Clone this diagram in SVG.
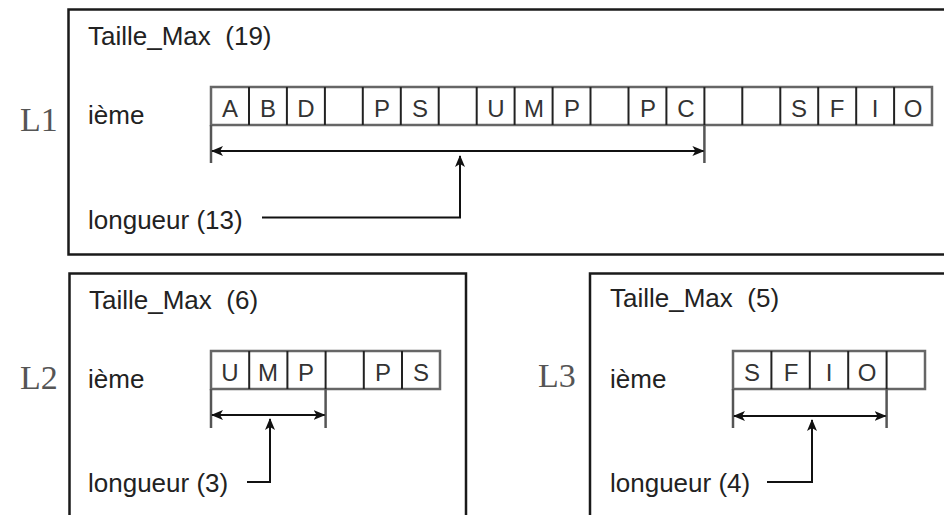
<svg xmlns="http://www.w3.org/2000/svg" width="944" height="515" viewBox="0 0 944 515">
<style>
.lbl{font-family:"Liberation Sans",Arial,sans-serif;font-size:26px;fill:#222}
.cell{font-family:"Liberation Sans",Arial,sans-serif;font-size:24px;fill:#333;text-anchor:middle}
.big{font-family:"Liberation Serif","Times New Roman",serif;font-size:34px;fill:#555}
.box{fill:none;stroke:#1a1a1a;stroke-width:2.5}
.arr{fill:none;stroke:#666;stroke-width:2.5}
.div{stroke:#222;stroke-width:2}
.ext{stroke:#555;stroke-width:2.5}
.con{fill:none;stroke:#111;stroke-width:2}
</style>
<defs>
<marker id="ah" markerUnits="userSpaceOnUse" markerWidth="12" markerHeight="10" refX="11" refY="5" orient="auto-start-reverse">
<path d="M0,0 L12,5 L0,10 L3,5 z" fill="#111"/>
</marker>
</defs>
<rect width="944" height="515" fill="#fff"/>

<g id="L1">
<path class="box" d="M950,9.5 H68.5 V254.5 H950"/>
<text class="big" x="20" y="131">L1</text>
<text class="lbl" x="88" y="45">Taille_Max &#160;(19)</text>
<text class="lbl" x="88" y="124">ième</text>
<text class="lbl" x="88" y="229">longueur (13)</text>
<rect class="arr" x="211" y="87" width="721" height="38"/>
<g class="div">
<line x1="249" y1="87" x2="249" y2="125"/><line x1="286.9" y1="87" x2="286.9" y2="125"/><line x1="324.9" y1="87" x2="324.9" y2="125"/><line x1="362.8" y1="87" x2="362.8" y2="125"/><line x1="400.8" y1="87" x2="400.8" y2="125"/><line x1="438.7" y1="87" x2="438.7" y2="125"/><line x1="476.7" y1="87" x2="476.7" y2="125"/><line x1="514.6" y1="87" x2="514.6" y2="125"/><line x1="552.6" y1="87" x2="552.6" y2="125"/><line x1="590.5" y1="87" x2="590.5" y2="125"/><line x1="628.5" y1="87" x2="628.5" y2="125"/><line x1="666.4" y1="87" x2="666.4" y2="125"/><line x1="704.4" y1="87" x2="704.4" y2="125"/><line x1="742.3" y1="87" x2="742.3" y2="125"/><line x1="780.3" y1="87" x2="780.3" y2="125"/><line x1="818.2" y1="87" x2="818.2" y2="125"/><line x1="856.2" y1="87" x2="856.2" y2="125"/><line x1="894.1" y1="87" x2="894.1" y2="125"/>
</g>
<text class="cell" x="230" y="117">A</text><text class="cell" x="268" y="117">B</text><text class="cell" x="306" y="117">D</text>
<text class="cell" x="382" y="117">P</text><text class="cell" x="420" y="117">S</text>
<text class="cell" x="496" y="117">U</text><text class="cell" x="534" y="117">M</text><text class="cell" x="572" y="117">P</text>
<text class="cell" x="648" y="117">P</text><text class="cell" x="686" y="117">C</text>
<text class="cell" x="799" y="117">S</text><text class="cell" x="837" y="117">F</text><text class="cell" x="875" y="117">I</text><text class="cell" x="913" y="117">O</text>
<line class="ext" x1="211" y1="125" x2="211" y2="163"/><line class="ext" x1="704.4" y1="125" x2="704.4" y2="163"/>
</g>

<g id="L2">
<path class="box" d="M69.5,520 V273.5 H466 V520"/>
<text class="big" x="20" y="389">L2</text>
<text class="lbl" x="89" y="309">Taille_Max &#160;(6)</text>
<text class="lbl" x="88" y="388">ième</text>
<text class="lbl" x="88" y="492">longueur (3)</text>
<rect class="arr" x="211" y="351" width="229" height="38"/>
<g class="div">
<line x1="249.2" y1="351" x2="249.2" y2="389"/><line x1="287.4" y1="351" x2="287.4" y2="389"/><line x1="325.6" y1="351" x2="325.6" y2="389"/><line x1="363.8" y1="351" x2="363.8" y2="389"/><line x1="402" y1="351" x2="402" y2="389"/>
</g>
<text class="cell" x="230" y="381">U</text><text class="cell" x="268" y="381">M</text><text class="cell" x="306" y="381">P</text>
<text class="cell" x="383" y="381">P</text><text class="cell" x="421" y="381">S</text>
<line class="ext" x1="211" y1="389" x2="211" y2="428"/><line class="ext" x1="325.6" y1="389" x2="325.6" y2="428"/>
</g>

<g id="L3">
<path class="box" d="M590,520 V273.5 H950"/>
<text class="big" x="538" y="387">L3</text>
<text class="lbl" x="610" y="307">Taille_Max &#160;(5)</text>
<text class="lbl" x="610" y="388">ième</text>
<text class="lbl" x="610" y="492">longueur (4)</text>
<rect class="arr" x="733" y="351" width="192" height="38"/>
<g class="div">
<line x1="771.4" y1="351" x2="771.4" y2="389"/><line x1="809.8" y1="351" x2="809.8" y2="389"/><line x1="848.2" y1="351" x2="848.2" y2="389"/><line x1="886.6" y1="351" x2="886.6" y2="389"/>
</g>
<text class="cell" x="752" y="381">S</text><text class="cell" x="791" y="381">F</text><text class="cell" x="829" y="381">I</text><text class="cell" x="867" y="381">O</text>
<line class="ext" x1="733" y1="389" x2="733" y2="428"/><line class="ext" x1="886.6" y1="389" x2="886.6" y2="428"/>
</g>

<g id="connectors">
<line class="con" x1="212" y1="151" x2="703.4" y2="151" marker-start="url(#ah)" marker-end="url(#ah)"/>
<path class="con" d="M262,217.5 H460 V156" marker-end="url(#ah)"/>
<line class="con" x1="212" y1="415" x2="324.6" y2="415" marker-start="url(#ah)" marker-end="url(#ah)"/>
<path class="con" d="M247,482 H270 V419" marker-end="url(#ah)"/>
<line class="con" x1="734" y1="416" x2="885.6" y2="416" marker-start="url(#ah)" marker-end="url(#ah)"/>
<path class="con" d="M767,482 H812 V420" marker-end="url(#ah)"/>
</g>
</svg>
